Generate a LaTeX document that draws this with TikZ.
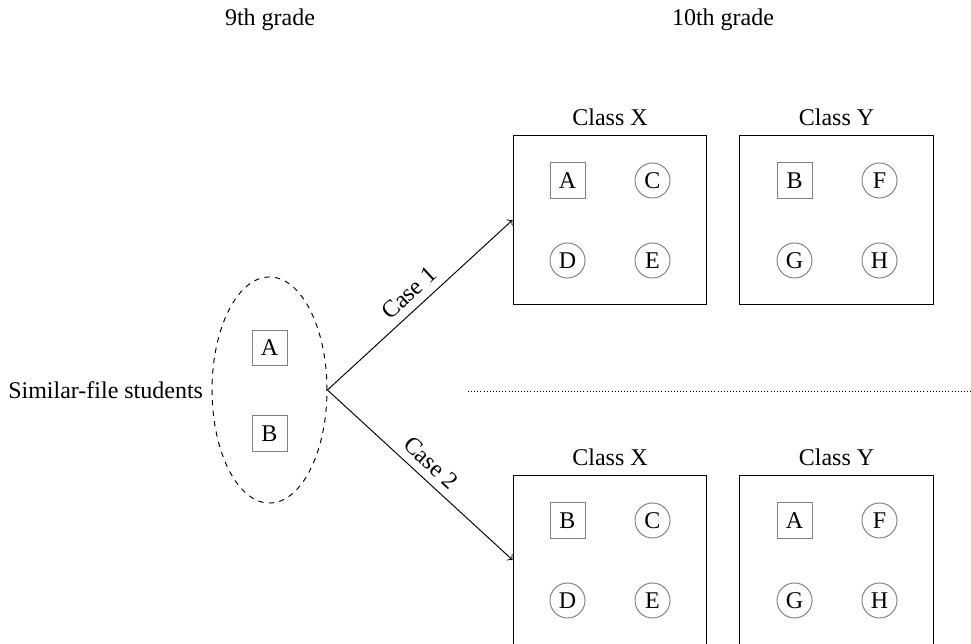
\documentclass[tikz,border=0pt]{standalone}
\usepackage{fontspec}
\setmainfont{Liberation Serif}
\usetikzlibrary{shapes.geometric,positioning}
\tikzset{
  stu/.style={draw=gray, rectangle, minimum size=14.6pt, inner sep=0pt},
  oth/.style={draw=gray, circle, minimum size=14.6pt, inner sep=0pt},
  classbox/.style={draw, rectangle, minimum width=80.8pt, minimum height=70.8pt, inner sep=0pt},
  grp/.style={draw, dashed, dash pattern=on 2.2pt off 2.2pt, ellipse, minimum width=47.9pt, minimum height=94.2pt, inner sep=0pt},
  conn/.style={->},
  sep/.style={draw, dash pattern=on 0.4pt off 0.9pt}
}
\begin{document}
\begin{tikzpicture}[x=0.4167pt, y=-0.4167pt]
\clip (0,0) rectangle (971,644);
\useasboundingbox (0,0) rectangle (971,644);
% headers
\node (h9) at (270,20) {9th grade};
\node (h10) at (723,20) {10th grade};
% group
\node[grp] (g) at (269.5,390) {};
\node[stu] (gA) at (269.5,348) {A};
\node[stu] (gB) at (269.5,433.5) {B};
\node[left=0pt of g] (glabel) {Similar-file students};
% case 1
\node[classbox, label={above:Class X}] (X1) at (610,220) {};
\node[classbox, label={above:Class Y}] (Y1) at (836.5,220) {};
\node[stu] (x1a) at (567.5,180.5) {A};
\node[oth] (x1c) at (652.5,180.5) {C};
\node[oth] (x1d) at (567.5,260.5) {D};
\node[oth] (x1e) at (652.5,260.5) {E};
\node[stu] (y1b) at (794.5,180.5) {B};
\node[oth] (y1f) at (879.5,180.5) {F};
\node[oth] (y1g) at (794.5,260.5) {G};
\node[oth] (y1h) at (879.5,260.5) {H};
% case 2
\node[classbox, label={above:Class X}] (X2) at (610,560) {};
\node[classbox, label={above:Class Y}] (Y2) at (836.5,560) {};
\node[stu] (x2b) at (567.5,520.5) {B};
\node[oth] (x2c) at (652.5,520.5) {C};
\node[oth] (x2d) at (567.5,600.5) {D};
\node[oth] (x2e) at (652.5,600.5) {E};
\node[stu] (y2a) at (794.5,520.5) {A};
\node[oth] (y2f) at (879.5,520.5) {F};
\node[oth] (y2g) at (794.5,600.5) {G};
\node[oth] (y2h) at (879.5,600.5) {H};
% connectors
\draw[conn] (g.east) -- node[sloped, above] {Case 1} (X1.west);
\draw[conn] (g.east) -- node[sloped, above] {Case 2} (X2.west);
% separator
\coordinate (s1) at (468,391);
\coordinate (s2) at (971,391);
\draw[sep] (s1) -- (s2);
\end{tikzpicture}
\end{document}
